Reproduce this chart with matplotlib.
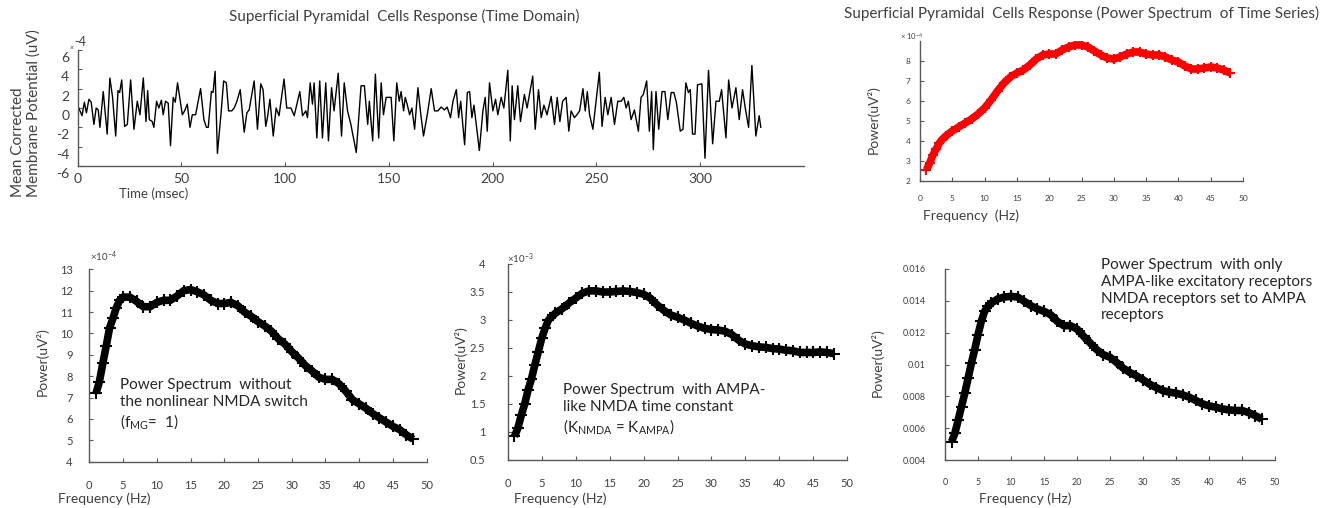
import numpy as np
import matplotlib
matplotlib.use("Agg")
import matplotlib.pyplot as plt
from matplotlib.ticker import FuncFormatter
from matplotlib.transforms import ScaledTranslation

plt.rcParams['font.family'] = ['Lato', 'DejaVu Sans']
plt.rcParams['mathtext.default'] = 'regular'

# ── time domain trace (x1e-4 uV) ─────────────────────────────
t_ms = [0.6, 2.2, 3.3, 4.3, 5.5, 6.6, 7.9, 9.0, 10.0, 10.8, 12.4, 14.3, 15.6, 16.9, 18.4,
        19.5, 20.3, 21.3, 22.7, 24.0, 25.6, 27.2, 28.8, 30.1, 31.7, 33.0, 33.8, 34.6, 36.0,
        36.8, 38.1, 39.2, 40.4, 41.3, 42.4, 43.7, 44.8, 46.1, 47.1, 48.2, 50.5, 51.6, 52.9,
        54.2, 55.3, 56.9, 59.3, 60.9, 62.1, 63.0, 64.5, 65.3, 66.3, 67.4, 69.1, 70.4, 71.7,
        72.8, 74.3, 75.5, 76.8, 78.4, 80.3, 81.6, 82.7, 85.1, 86.7, 88.3, 89.4, 90.7, 91.5,
        92.7, 94.3, 95.7, 97.1, 99.5, 100.8, 102.8, 104.4, 107.1, 108.4, 110.0, 110.8, 112.1,
        113.2, 114.0, 115.3, 116.7, 118.0, 119.6, 120.9, 122.4, 123.6, 125.6, 127.2, 128.5,
        130.1, 131.7, 134.3, 136.6, 138.2, 139.8, 140.6, 142.2, 143.5, 145.1, 146.3, 147.4,
        148.7, 151.1, 152.4, 153.8, 155.0, 155.9, 157.1, 157.9, 158.8, 160.0, 161.1, 162.4,
        164.0, 165.3, 166.7, 168.5, 170.4, 172.0, 173.6, 175.2, 176.8, 178.1, 179.7, 180.9,
        182.5, 183.6, 184.6, 186.5, 187.8, 188.9, 190.0, 191.0, 193.6, 195.3, 196.4, 197.4,
        198.5, 200.1, 201.4, 202.5, 204.1, 205.4, 207.3, 208.5, 209.4, 210.5, 212.1, 213.4,
        215.3, 216.6, 219.3, 220.5, 222.1, 223.4, 224.7, 226.2, 228.2, 229.8, 231.1, 232.4,
        233.7, 235.4, 236.7, 237.8, 239.4, 240.6, 241.9, 243.5, 244.6, 245.6, 246.7, 248.3,
        251.4, 252.7, 254.2, 255.5, 257.1, 258.7, 260.3, 261.9, 263.2, 264.3, 265.4, 266.7,
        268.3, 270.2, 271.5, 272.6, 274.2, 275.5, 276.6, 277.4, 278.7, 280.0, 281.6, 283.0,
        284.4, 286.0, 287.3, 288.5, 290.4, 291.7, 293.1, 294.3, 295.2, 296.3, 297.5, 298.7,
        300.8, 302.3, 304.0, 306.0, 307.6, 309.2, 310.3, 312.4, 313.7, 315.3, 317.2, 318.8,
        320.4, 321.7, 323.3, 324.9, 326.8, 328.4, 329.2]
v_mem = [0, -0.8, 0.6, -0.5, 0.9, 0.6, -1.7, 0, -0.2, -2.0, 1.7, -2.7, 3.1, 1.1, -2.9,
         1.8, 1.6, 2.9, -1.9, -1.7, 2.9, -2.2, 0.7, -0.7, 3.1, -1.4, 1.8, -1.2, -1.4,
         -2.0, 0.7, 0, 0.8, -0.7, 0.7, 0.5, -3.9, 1.1, 0.6, 2.6, -0.7, -0.3, 0.4,
         -2.0, -0.7, -0.7, 2.0, -1.2, -2.0, -2.0, 1.7, 1.6, 3.8, -4.7, -0.7, 2.8, 2.6,
         -0.3, -0.3, 0, 0.7, 1.9, -2.5, -0.5, -0.2, 2.8, -2.2, 2.5, 1.9, -1.9, -1.0,
         0.9, -2.9, 0, -0.8, 3.0, 0, 0, -0.8, 1.7, -0.8, -0.3, -1.0, 2.6,
         0.4, 2.6, -3.1, 2.8, -3.1, 2.6, -3.4, 2.1, -0.3, 3.6, -2.9, 2.6,
         -0.3, -1.7, -4.6, 2.3, 2.3, -1.7, 0.7, -3.4, 3.5, -3.1, 2.6, -0.7,
         1.1, 1.1, -3.4, 2.6, 0.7, 1.7, -0.3, 1.1, 0.4, -0.7, 0, -2.2,
         2.1, -0.5, -2.9, -0.7, 2.0, -0.3, -0.3, 0.1, -0.2, 0.1, -1.0, 0.7,
         1.9, -1.0, 0.7, -3.8, 1.6, 1.7, -1.0, 0.3, -4.4, -0.3, 1.1, -2.4,
         2.6, -0.3, 0.9, -0.7, 1.1, 0, 3.9, -3.4, 2.3, -1.2, 2.3, -1.4,
         1.4, 0, 3.3, -2.2, 1.9, -1.0, 0.3, -0.7, 1.2, -1.7, 1.1, -1.4,
         0.7, 1.1, -2.4, -0.3, -1.0, -0.7, -0.3, 2.0, -0.3, 1.7, -0.7, -2.2,
         3.7, -1.9, 1.1, -0.7, 1.1, -1.7, 0.7, 0.7, 1.1, 0, 0.7, -1.2,
         -0.2, -2.4, 1.1, 1.4, 2.8, -2.4, 1.7, -4.3, 1.7, -2.2, 1.7, 1.7,
         -1.2, 1.6, 1.6, 0.6, -2.4, -2.2, 2.6, 1.6, 1.9, -2.7, -2.7, 2.4,
         2.5, -5.2, 3.9, -3.7, 0.7, 0.7, 1.9, -3.1, 2.9, 0, 2.1, -1.2,
         1.9, 0, -2.0, 4.4, -2.9, -0.8, -2.0]

# ── power spectra ───────────────────────────────────────────
f_full = [1, 1.5, 2, 2.5, 3, 3.5, 4, 5, 6, 7, 8, 9, 10, 11, 12, 13, 14, 15, 16, 17, 18, 19,
          20, 21, 22, 23, 24, 25, 26, 27, 28, 29, 30, 31, 32, 33, 34, 35, 36, 37, 38, 39,
          40, 41, 42, 43, 44, 45, 46, 47, 48]
p_full = [2.55, 2.9, 3.3, 3.6, 3.9, 4.1, 4.25, 4.5, 4.7, 4.9, 5.1, 5.35, 5.65, 6.05, 6.5,
          6.9, 7.2, 7.4, 7.55, 7.8, 8.1, 8.3, 8.35, 8.35, 8.55, 8.7, 8.8, 8.8, 8.7, 8.5,
          8.3, 8.15, 8.1, 8.2, 8.35, 8.45, 8.45, 8.35, 8.3, 8.3, 8.2, 8.05, 7.95, 7.75,
          7.6, 7.6, 7.65, 7.7, 7.65, 7.55, 7.4]

f_nomg = [1, 1.5, 2, 2.5, 3, 3.5, 4, 4.5, 5, 6, 7, 8, 9, 10, 11, 12, 13, 14, 15, 16, 17, 18,
          19, 20, 21, 22, 23, 24, 25, 26, 27, 28, 29, 30, 31, 32, 33, 34, 35, 36, 37, 38,
          39, 40, 41, 42, 43, 44, 45, 46, 47, 48]
p_nomg = [7.2, 7.75, 8.6, 9.4, 10.25, 10.7, 11.2, 11.55, 11.7, 11.7, 11.5, 11.25, 11.25,
          11.45, 11.55, 11.55, 11.75, 12.0, 12.05, 11.95, 11.8, 11.55, 11.4, 11.4, 11.45,
          11.3, 11.0, 10.8, 10.55, 10.35, 10.1, 9.75, 9.5, 9.15, 8.85, 8.5, 8.25, 7.95,
          7.85, 7.85, 7.65, 7.3, 6.9, 6.7, 6.5, 6.25, 6.05, 5.85, 5.65, 5.5, 5.25, 5.05]

f_knmda = [1, 1.5, 2, 2.5, 3, 3.5, 4, 4.5, 5, 5.5, 6, 7, 8, 9, 10, 11, 12, 13, 14, 15, 16,
           17, 18, 19, 20, 21, 22, 23, 24, 25, 26, 27, 28, 29, 30, 31, 32, 33, 34, 35, 36,
           37, 38, 39, 40, 41, 42, 43, 44, 45, 46, 47, 48]
p_knmda = [0.92, 1.07, 1.3, 1.5, 1.75, 1.95, 2.2, 2.43, 2.67, 2.85, 3.0, 3.12, 3.2, 3.3,
           3.39, 3.48, 3.52, 3.52, 3.5, 3.5, 3.51, 3.52, 3.51, 3.49, 3.46, 3.39, 3.27,
           3.17, 3.09, 3.05, 3.0, 2.94, 2.89, 2.85, 2.83, 2.82, 2.8, 2.74, 2.64, 2.57,
           2.54, 2.52, 2.51, 2.49, 2.48, 2.46, 2.45, 2.42, 2.42, 2.42, 2.43, 2.42, 2.4]

f_ampa = [1, 1.5, 2, 2.5, 3, 3.5, 4, 4.5, 5, 5.5, 6, 6.5, 7, 8, 9, 10, 11, 12, 13, 14, 15,
          16, 17, 18, 19, 20, 21, 22, 23, 24, 25, 26, 27, 28, 29, 30, 31, 32, 33, 34, 35,
          36, 37, 38, 39, 40, 41, 42, 43, 44, 45, 46, 47, 48]
p_ampa = [0.00515, 0.00568, 0.00652, 0.00736, 0.0082, 0.00914, 0.01009, 0.01093, 0.01187,
          0.01271, 0.01334, 0.01365, 0.01386, 0.01412, 0.01424, 0.01428, 0.01424, 0.01397,
          0.0137, 0.01349, 0.01334, 0.01313, 0.01271, 0.01244, 0.01244, 0.01223, 0.01177,
          0.01135, 0.01093, 0.01061, 0.01046, 0.01013, 0.00977, 0.0095, 0.00929, 0.00904,
          0.00876, 0.00855, 0.00836, 0.00826, 0.0082, 0.00809, 0.00795, 0.00774, 0.00753,
          0.0074, 0.00732, 0.00721, 0.00715, 0.00711, 0.00711, 0.00698, 0.00679, 0.00656]

W, H = 1338, 508
TXT = "#404040"
fig = plt.figure(figsize=(W / 100, H / 100), dpi=100)


def px_axes(l, t, r, b):
    return fig.add_axes([l / W, 1 - b / H, (r - l) / W, (b - t) / H])


def px_text(x, y, s, **kw):
    kw.setdefault("color", TXT)
    return fig.text(x / W, 1 - y / H, s, **kw)


def style(ax, fs, xpad, ypad):
    for s in ("top", "right"):
        ax.spines[s].set_visible(False)
    for s in ("left", "bottom"):
        ax.spines[s].set_color("#595959")
        ax.spines[s].set_linewidth(1.0)
    ax.tick_params(direction="in", length=3, width=0.8, colors="#595959",
                   labelcolor=TXT, labelsize=fs)
    ax.tick_params(axis="x", pad=xpad)
    ax.tick_params(axis="y", pad=ypad)
    ax.yaxis.set_major_formatter(FuncFormatter(lambda v, p: "%g" % round(v, 6)))


# ── top left: time domain ─────────────────────────────────────
ax = px_axes(77.5, 50, 804, 166)
ax.plot(t_ms, v_mem, color="black", lw=1.0)
ax.set_xlim(0, 350)
ax.set_ylim(-6, 6)
ax.set_xticks([0, 50, 100, 150, 200, 250, 300])
ax.set_yticks([-6, -4, -2, 0, 2, 4, 6])
style(ax, 10, 5, 6)
for lab in ax.get_yticklabels():
    lab.set_transform(lab.get_transform() + ScaledTranslation(0, -0.07, fig.dpi_scale_trans))
px_text(404, 16, "Superficial Pyramidal  Cells Response (Time Domain)", fontsize=11,
        ha="center", va="center")
px_text(72, 47, "\u00d7", fontsize=5, ha="center", va="center")
px_text(74, 42, "-4", fontsize=9, ha="left", va="center")
px_text(26, 197, "Mean Corrected\nMembrane Potential (uV)", fontsize=11, rotation=90,
        ha="center", va="bottom", multialignment="left", linespacing=1.1)
px_text(154, 194, "Time (msec)", fontsize=9.5, ha="center", va="center")

# ── top right: full model spectrum ──────────────────────────
ax = px_axes(920, 41, 1243, 181)
ax.plot(f_full, p_full, "-", color="red", lw=5.5, solid_capstyle="butt")
ax.plot(f_full, p_full, "+", color="red", ms=7, mew=1.5)
ax.set_xlim(0, 50)
ax.set_ylim(2, 9)
ax.set_xticks(range(0, 51, 5))
ax.set_yticks([2, 3, 4, 5, 6, 7, 8])
style(ax, 6, 10, 7)
px_text(1082, 13, "Superficial Pyramidal  Cells Response (Power Spectrum  of Time Series)",
        fontsize=11, ha="center", va="center")
px_text(912, 36, "\u00d7 10$^{-4}$", fontsize=5.5, ha="center", va="center")
px_text(873, 120, "Power(uV\u00b2)", fontsize=10, rotation=90, ha="center", va="center")
px_text(971, 216, "Frequency  (Hz)", fontsize=10, ha="center", va="center")

# ── bottom panels ───────────────────────────────────────────
panels = [
    dict(box=(89.3, 269.3, 426.7, 461.7), f=f_nomg, p=p_nomg, ylim=(4, 13),
         yticks=[4, 5, 6, 7, 8, 9, 10, 11, 12, 13], fs=8, xpad=13, ypad=12,
         mult=(103, 257, "\u00d710$^{-4}$"), ylab=(42, 362), xlab=(104, 499),
         note=(120, 378, "Power Spectrum  without\nthe nonlinear NMDA switch\n(f$_{MG}$=  1)")),
    dict(box=(507.7, 264, 847.3, 460), f=f_knmda, p=p_knmda, ylim=(0.5, 4),
         yticks=[0.5, 1, 1.5, 2, 2.5, 3, 3.5, 4], fs=8, xpad=13, ypad=16,
         mult=(520, 259, "\u00d710$^{-3}$"), ylab=(460, 360), xlab=(560, 499),
         note=(563, 383, "Power Spectrum  with AMPA-\nlike NMDA time constant\n(K$_{NMDA}$ = K$_{AMPA}$)")),
    dict(box=(945, 269, 1275, 460), f=f_ampa, p=p_ampa, ylim=(0.004, 0.016),
         yticks=[0.004, 0.006, 0.008, 0.01, 0.012, 0.014, 0.016], fs=6.5, xpad=13, ypad=14,
         mult=None, ylab=(877, 363), xlab=(1025, 499),
         note=(1101, 258, "Power Spectrum  with only\nAMPA-like excitatory receptors\n"
                          "NMDA receptors set to AMPA\nreceptors")),
]

for pn in panels:
    ax = px_axes(*pn["box"])
    ax.plot(pn["f"], pn["p"], "-", color="black", lw=5.5, solid_capstyle="butt")
    ax.plot(pn["f"], pn["p"], "+", color="black", ms=8, mew=1.5)
    ax.set_xlim(0, 50)
    ax.set_ylim(*pn["ylim"])
    ax.set_xticks(range(0, 51, 5))
    ax.set_yticks(pn["yticks"])
    style(ax, pn["fs"], pn["xpad"], pn["ypad"])
    if pn["mult"]:
        mx, my, ms = pn["mult"]
        px_text(mx, my, ms, fontsize=7, ha="center", va="center")
    px_text(pn["ylab"][0], pn["ylab"][1], "Power(uV\u00b2)", fontsize=10, rotation=90,
            ha="center", va="center")
    px_text(pn["xlab"][0], pn["xlab"][1], "Frequency (Hz)", fontsize=10, ha="center",
            va="center")
    nx, ny, ns = pn["note"]
    px_text(nx, ny, ns, fontsize=11, ha="left", va="top", linespacing=1.25, color="#262626")

fig.savefig("out.png", dpi=100)
